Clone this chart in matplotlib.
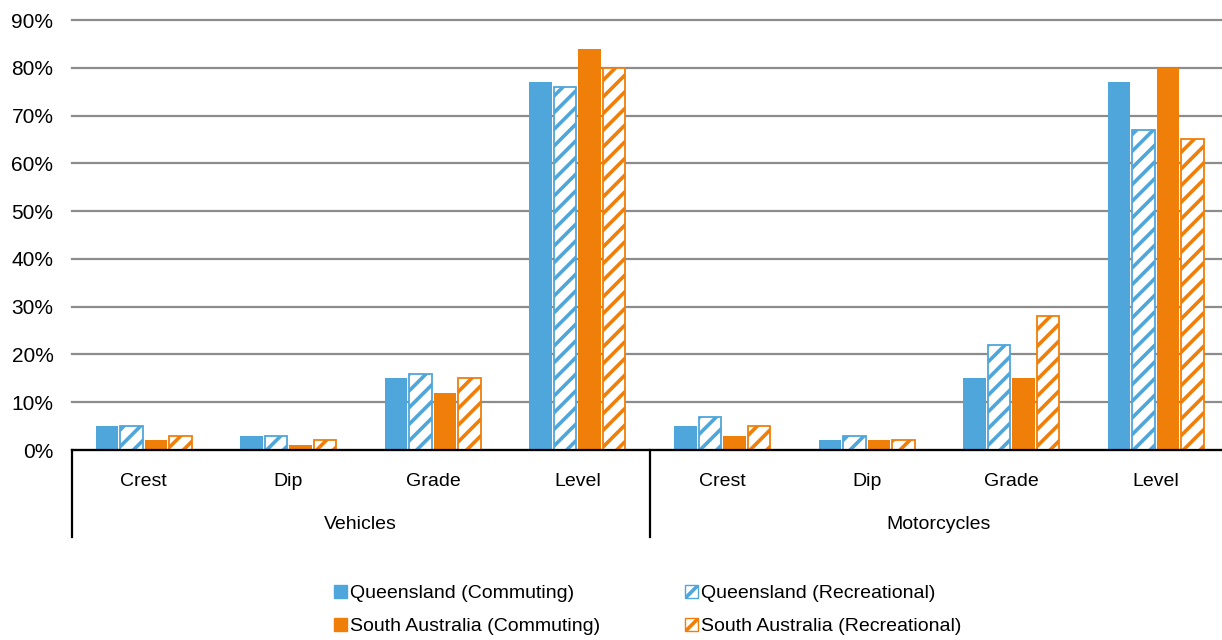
import matplotlib.pyplot as plt
import matplotlib.transforms as mtransforms
from matplotlib.patches import Patch
import numpy as np

plt.rcParams["font.family"] = ["Liberation Sans", "DejaVu Sans"]
plt.rcParams["hatch.linewidth"] = 2.6

groups = ["Vehicles", "Motorcycles"]
categories = ["Crest", "Dip", "Grade", "Level"]
series = ["Queensland (Commuting)", "Queensland (Recreational)",
          "South Australia (Commuting)", "South Australia (Recreational)"]
qld_commuting = [5, 3, 15, 77, 5, 2, 15, 77]
qld_recreational = [5, 3, 16, 76, 7, 3, 22, 67]
sa_commuting = [2, 1, 12, 84, 3, 2, 15, 80]
sa_recreational = [3, 2, 15, 80, 5, 2, 28, 65]
values = [qld_commuting, qld_recreational, sa_commuting, sa_recreational]

blue = "#4FA6DB"
orange = "#F07F0A"
colors = [blue, blue, orange, orange]
hatched = [False, True, False, True]

fig = plt.figure(figsize=(12.22, 6.4), dpi=100)
ax = fig.add_axes([71.5 / 1222, 190 / 640, 1156.5 / 1222, 430 / 640])

x = np.arange(len(qld_commuting))
step = 0.1695
width = 0.156
for i, vals in enumerate(values):
    pos = x + (i - 1.5) * step
    v = np.array(vals) / 100
    if hatched[i]:
        ax.bar(pos, v, width, facecolor="white", edgecolor=colors[i],
               hatch="//", linewidth=1.3, zorder=3)
    else:
        ax.bar(pos, v, width, color=colors[i], linewidth=0, zorder=3)

ax.set_xlim(-0.5, 7.5)
ax.set_ylim(0, 0.9)
ax.set_yticks(np.arange(0, 0.91, 0.1))
ax.set_yticklabels([f"{int(round(t * 100))}%" for t in np.arange(0, 0.91, 0.1)])
ax.yaxis.grid(True, color="#8C8C8C", linewidth=1.6, zorder=0)
for gl in ax.get_ygridlines():
    gl.set_clip_on(False)
ax.set_axisbelow(True)
ax.tick_params(axis="y", length=0, labelsize=15, pad=13)
ax.set_xticks([])
for s in ["top", "right", "left"]:
    ax.spines[s].set_visible(False)
ax.spines["bottom"].set_linewidth(1.6)
ax.spines["bottom"].set_zorder(4)

trans = mtransforms.blended_transform_factory(ax.transData, ax.transAxes)
for i in x:
    ax.text(i, -0.074, categories[i % 4], transform=trans, ha="center",
            va="center", fontsize=14)
for g, name in enumerate(groups):
    ax.text(g * 4 + 1.5, -0.174, name, transform=trans, ha="center",
            va="center", fontsize=14)
for xs in [-0.5, 3.5, 7.5]:
    ax.plot([xs, xs], [0, -0.202], transform=trans, color="black",
            linewidth=1.6, clip_on=False)

handles = [
    Patch(facecolor=blue, edgecolor=blue, label=series[0]),
    Patch(facecolor=orange, edgecolor=orange, label=series[2]),
    Patch(facecolor="white", edgecolor=blue, hatch="//", label=series[1]),
    Patch(facecolor="white", edgecolor=orange, hatch="//", label=series[3]),
]
fig.legend(handles=handles, ncol=2, loc="center", bbox_to_anchor=(0.53, 0.047),
           frameon=False, fontsize=14, handlelength=0.65, handleheight=0.65,
           handletextpad=0.15, columnspacing=4.4, labelspacing=0.8)

fig.savefig("out.png", dpi=100)
